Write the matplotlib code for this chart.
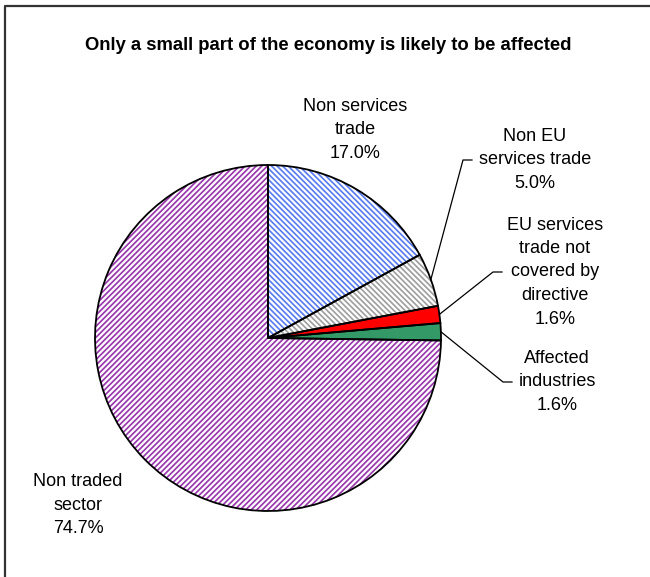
import numpy as np
import matplotlib
matplotlib.use("Agg")
import matplotlib.pyplot as plt
from matplotlib.lines import Line2D

plt.rcParams["font.family"] = ["Liberation Sans", "DejaVu Sans"]
plt.rcParams["hatch.linewidth"] = 1.25

# Slices, clockwise from 12 o'clock
labels = [
    "Non services\ntrade",
    "Non EU\nservices trade",
    "EU services\ntrade not\ncovered by\ndirective",
    "Affected\nindustries",
    "Non traded\nsector",
]
shares = [17.0, 5.0, 1.6, 1.6, 74.7]
colors = ["white", "white", "#ff0000", "#339966", "white"]
hatch_colors = ["#5b7def", "#a0a0a0", "#ff0000", "#339966", "#9a38ae"]
hatches = ["\\" * 6, "\\" * 6, None, None, "/" * 6]

W, H = 650, 577
cx, cy, R = 268, 338, 173  # pie centre and radius in pixels

fig = plt.figure(figsize=(W / 100, H / 100), dpi=100)
fig.patch.set_facecolor("white")
ax = fig.add_axes([(cx - R) / W, (H - cy - R) / H, 2 * R / W, 2 * R / H])

# fill / hatch layer
fills, _ = ax.pie(shares, startangle=90, counterclock=False, radius=1,
                  wedgeprops=dict(linewidth=0))
for w, fc, hc, h in zip(fills, colors, hatch_colors, hatches):
    w.set_facecolor(fc)
    w.set_edgecolor(hc)
    if h:
        w.set_hatch(h)

# outline layer
outl, _ = ax.pie(shares, startangle=90, counterclock=False, radius=1,
                 wedgeprops=dict(facecolor="none", edgecolor="black", linewidth=1.3))
ax.set_xlim(-1, 1)
ax.set_ylim(-1, 1)


def px(x, y):
    return (x - cx) / R, (cy - y) / R


# label positions (pixel centres) and leader elbows
label_pos = [(355, 130), (535, 160), (555, 272), (557, 382), (78, 505)]
elbows = [None, ((463, 160), (472, 160)), ((493, 272), (502, 272)),
          ((503, 382), (512, 382)), None]

total = sum(shares)
cum = np.cumsum([0] + shares)
for i, (lab, val) in enumerate(zip(labels, shares)):
    tx, ty = px(*label_pos[i])
    ax.text(tx, ty, f"{lab}\n{val:.1f}%", ha="center", va="center",
            multialignment="center", fontsize=13, linespacing=1.5,
            clip_on=False)
    if elbows[i] is not None:
        mid = np.deg2rad(90 - 360 * (cum[i] + val / 2) / total)
        sx, sy = np.cos(mid), np.sin(mid)
        (e1, e2) = elbows[i]
        ex, ey = px(*e1)
        fx, fy = px(*e2)
        ax.plot([sx, ex, fx], [sy, ey, fy], color="black", lw=0.9,
                clip_on=False)

fig.text(328 / W, 1 - 45 / H,
         "Only a small part of the economy is likely to be affected",
         ha="center", va="center", fontsize=13.3, fontweight="bold")

# chart frame (only left and top edges visible)
fig.add_artist(Line2D([5 / W, 5 / W, 1], [0, 1 - 6 / H, 1 - 6 / H],
                      transform=fig.transFigure, color="#333333", lw=1.6))

fig.savefig("out.png", dpi=100)
